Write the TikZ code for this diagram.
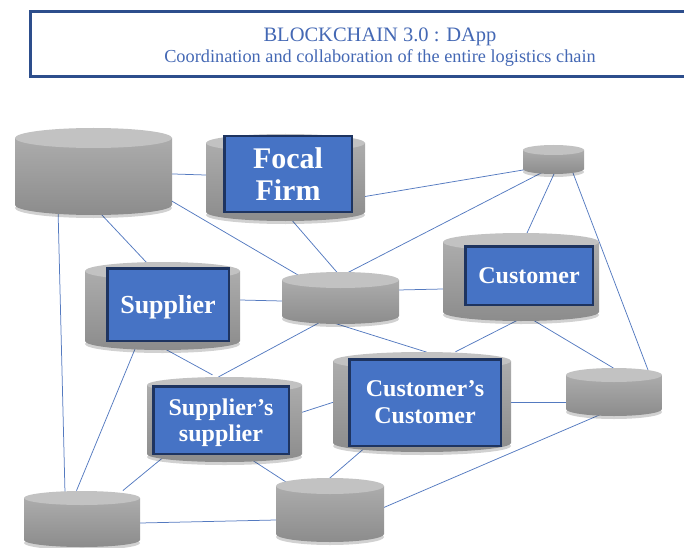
\documentclass[tikz,border=0pt]{standalone}
\usepackage{fontspec}
\setmainfont{Liberation Serif}
\usetikzlibrary{calc,backgrounds}

\definecolor{linkblue}{RGB}{84,122,192}
\definecolor{boxblue}{RGB}{70,115,197}
\definecolor{boxedge}{RGB}{30,52,96}
\definecolor{titleblue}{RGB}{68,104,180}
\definecolor{frameblue}{RGB}{45,78,140}
\definecolor{cyltopgray}{RGB}{194,194,194}
\definecolor{cylhigh}{RGB}{172,172,172}
\definecolor{cyllow}{RGB}{140,140,140}

% name, centre, width, height, radius of the end ellipse
\newcommand{\dbcyl}[5]{%
  \node[cylnode, minimum width=#3, minimum height=#4] (#1) at (#2) {};
  \fill[cylshadow] ([yshift=#5-3]#1.south) ellipse [x radius=#3/2, y radius=#5];
  \shade[cylbody] ([yshift=-#5]#1.north west) -- ([yshift=#5]#1.south west)
    arc [start angle=180, end angle=360, x radius=#3/2, y radius=#5]
    -- ([yshift=-#5]#1.north east) -- cycle;
  \fill[cyltop] ([yshift=-#5]#1.north) ellipse [x radius=#3/2, y radius=#5];
}

\begin{document}
\begin{tikzpicture}[x=1pt, y=1pt,
    cylnode/.style={rectangle, inner sep=0pt, outer sep=0pt},
    cylbody/.style={top color=cylhigh, bottom color=cyllow},
    cyltop/.style={fill=cyltopgray},
    cylshadow/.style={fill=black, opacity=0.18},
    bluebox/.style={draw=boxedge, fill=boxblue, line width=2.5pt, text=white, align=center, text depth=0pt, inner sep=0pt},
    title/.style={text=titleblue, inner sep=0pt},
    link/.style={draw=linkblue, line width=0.75pt, shorten <=-4pt, shorten >=-4pt}]

        \useasboundingbox (0,0) rectangle (684,547);
        \clip (0,0) rectangle (684,547);

        % Title frame
        \draw[frameblue, line width=3.5pt] (30.5,470.5) rectangle (700,535.5);
        \node[title, anchor=base, font=\fontsize{20.5}{24}\selectfont] (head) at (380,505) {BLOCKCHAIN 3.0 : DApp};
        \node[title, anchor=base, font=\fontsize{18.3}{22}\selectfont] (subhead) at (380,484) {Coordination and collaboration of the entire logistics chain};

        % Draw the cylinders
        \dbcyl{c1}{93.5,375.5}{157}{87}{10}
        \dbcyl{c2}{285.5,369.5}{159}{87}{9}
        \dbcyl{c3}{162.5,241}{155}{88}{9}
        \dbcyl{c4}{340.5,249}{117}{52}{8}
        \dbcyl{c5}{553.5,387.5}{61}{29}{5}
        \dbcyl{c6}{521,270}{156}{88}{9}
        \dbcyl{c7}{422,145}{178}{100}{9}
        \dbcyl{c8}{82,28}{116}{56}{7}
        \dbcyl{c9}{224.5,127.5}{155}{85}{8}
        \dbcyl{c10}{614,155}{96}{48}{7}
        \dbcyl{c11}{330,37}{108}{64}{8}

        % Labels on the cylinders
        \node[bluebox, font=\bfseries\fontsize{30}{32}\selectfont, minimum width=127.5, minimum height=75.5] (focal) at (288,373) {Focal\\Firm};
        \node[bluebox, font=\bfseries\fontsize{26}{28}\selectfont, minimum width=121.5, minimum height=72.5] (supplier) at (168,242.5) {Supplier};
        \node[bluebox, font=\bfseries\fontsize{24}{27}\selectfont, minimum width=127.5, minimum height=58.5] (customer) at (529,271.5) {Customer};
        \node[bluebox, font=\bfseries\fontsize{24}{27}\selectfont, minimum width=151.5, minimum height=86.5] (custcust) at (425,144.5) {Customer's\\Customer};
        \node[bluebox, font=\bfseries\fontsize{24}{26}\selectfont, minimum width=135.5, minimum height=67.5] (suppsupp) at (221,127) {Supplier's\\supplier};

        % Draw the links between the cylinders
        \begin{scope}[on background layer]
        \draw[link] (c1) -- (c2);
        \draw[link] ($(c1)+(76.5,-28.5)$) -- ($(c4)+(-42.5,23)$);
        \draw[link] ($(c1)+(6.5,-41.5)$) -- ($(c3)+(-15.5,43)$);
        \draw[link] ($(c1)+(-35.5,-36.5)$) -- ($(c8)+(-17,26)$);
        \draw[link] ($(c2)+(4.5,-40.5)$) -- ($(c4)+(-5.5,28)$);
        \draw[link] ($(c2)+(76.5,-19.5)$) -- ($(c5)+(-30.5,-10.5)$);
        \draw[link] ($(c4)+(8.5,26)$) -- ($(c5)+(-8.5,-11.5)$);
        \draw[link] ($(c5)+(0,-15.5)$) -- ($(c6)+(6,44)$);
        \draw[link] ($(c5)+(19.5,-13.5)$) -- ($(c10)+(34,22)$);
        \draw[link] ($(c4)+(57.5,8)$) -- ($(c6)+(-78,-12)$);
        \draw[link] ($(c3)+(77.5,6)$) -- ($(c4)+(-58.5,-3)$);
        \draw[link] ($(c4)+(-3.5,-26)$) -- ($(c7)+(1,51)$);
        \draw[link] ($(c4)+(-25.5,-27)$) -- ($(c9)+(-2.5,44.5)$);
        \draw[link] ($(c3)+(2.5,-43)$) -- ($(c9)+(-15.5,46.5)$);
        \draw[link] ($(c3)+(-27.5,-43)$) -- ($(c8)+(-4,32)$);
        \draw[link] ($(c6)+(-5,-44)$) -- ($(c7)+(37,52)$);
        \draw[link] ($(c6)+(12,-43)$) -- ($(c10)+(-4,26)$);
        \draw[link] ($(c9)+(78.5,7.5)$) -- ($(c7)+(-88,0)$);
        \draw[link] ($(c7)+(89,0)$) -- ($(c10)+(-49,-10)$);
        \draw[link] ($(c9)+(-64.5,-40.5)$) -- ($(c8)+(44,31)$);
        \draw[link] ($(c9)+(24.5,-38.5)$) -- ($(c11)+(-44,28)$);
        \draw[link] ($(c7)+(-62,-50)$) -- ($(c11)+(1,33)$);
        \draw[link] ($(c11)+(55,3)$) -- ($(c10)+(-10,-21)$);
        \draw[link] ($(c8)+(58,-4)$) -- ($(c11)+(-54,-10)$);
        \end{scope}

\end{tikzpicture}
\end{document}
